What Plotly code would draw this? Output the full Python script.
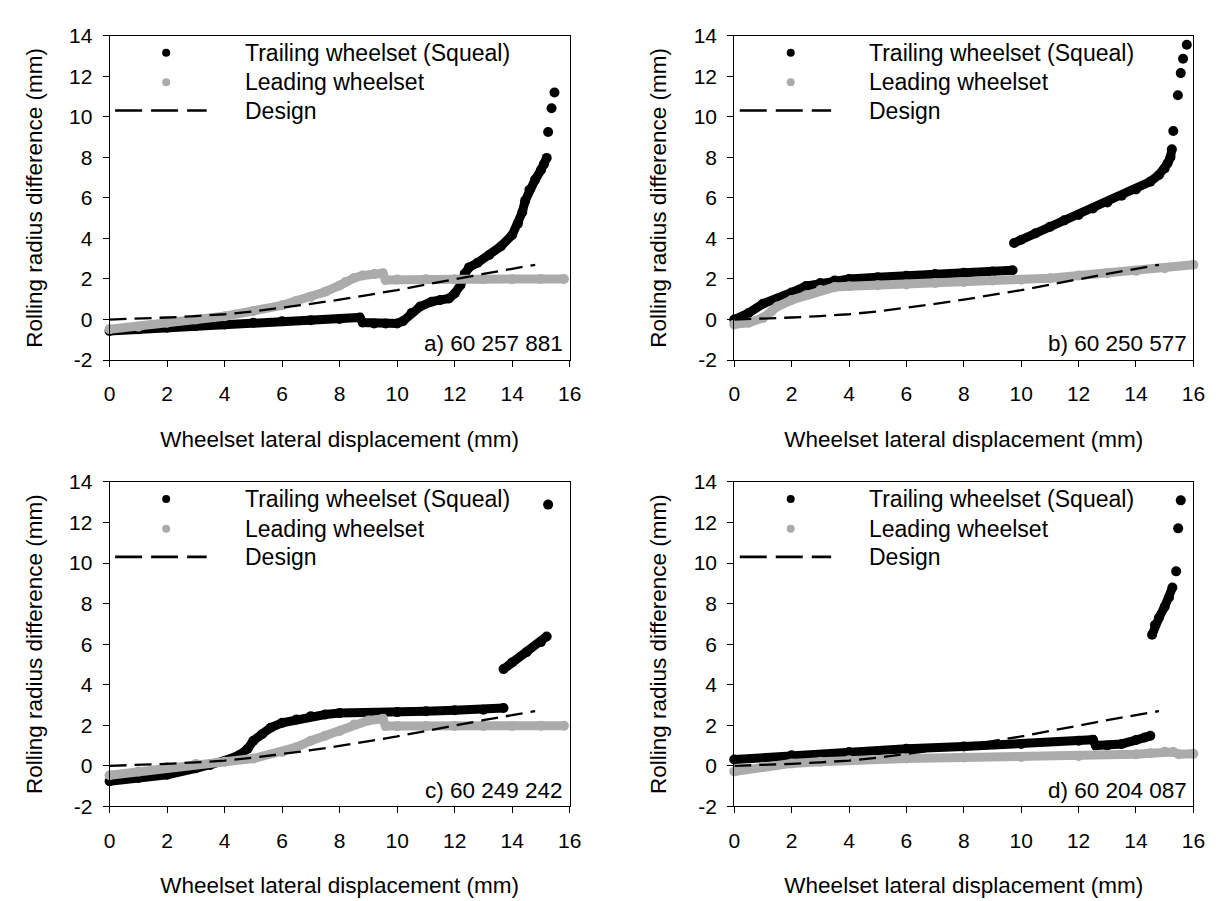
import plotly.graph_objects as go

# ---------------- data ----------------
design_x = [0, 1, 2, 3, 4, 5, 6, 7, 8, 9, 10, 11, 12, 13, 14, 14.8]
design_y = [0, 0.04, 0.1, 0.17, 0.26, 0.4, 0.57, 0.77, 0.98, 1.2, 1.45, 1.72, 2.0, 2.25, 2.5, 2.7]

# a) 60 257 881
trail_a_x = [0, 1, 2, 3, 4, 5, 6, 7, 8, 8.7, 8.8, 9.2, 9.6, 10.0, 10.2, 10.5, 10.8, 11.2, 11.5, 11.8,
             12.0, 12.2, 12.35, 12.5, 12.8, 13.2, 13.6, 14.0, 14.2, 14.35, 14.45, 14.6, 14.8, 15.0,
             15.1, 15.2, None, 15.25, None, 15.37, None, 15.47]
trail_a_y = [-0.56, -0.48, -0.4, -0.32, -0.24, -0.16, -0.08, -0.03, 0.03, 0.1, -0.15, -0.19, -0.19,
             -0.19, -0.08, 0.32, 0.64, 0.88, 0.96, 1.04, 1.28, 1.69, 2.25, 2.57, 2.8, 3.18, 3.6, 4.17,
             4.73, 5.29, 5.85, 6.4, 6.9, 7.37, 7.65, 7.97, None, 9.25, None, 10.42, None, 11.19]
lead_a_x = [0, 1, 2, 3, 4, 5, 6, 6.5, 7, 7.5, 8, 8.2, 8.5, 8.8, 9.2, 9.5, 9.6, 10, 11, 12, 13, 14, 15, 15.8]
lead_a_y = [-0.48, -0.35, -0.16, 0.0, 0.16, 0.42, 0.7, 0.93, 1.12, 1.37, 1.68, 1.85, 2.05, 2.17, 2.25,
            2.28, 1.95, 1.97, 1.98, 1.98, 1.99, 1.99, 2.0, 2.0]

# b) 60 250 577
trail_b_x = [0, 0.5, 1.0, 1.5, 2, 2.5, 3, 3.5, 4, 5, 6, 7, 8, 9, 9.7, None,
             9.75, 10, 10.5, 11, 11.5, 12, 12.5, 13, 13.5, 14, 14.5, 14.8, 15.0, 15.1, 15.2, 15.25, None,
             15.3, None, 15.46, None, 15.56, None, 15.64, None, 15.77]
trail_b_y = [0.0, 0.32, 0.78, 1.02, 1.33, 1.65, 1.8, 1.93, 2.0, 2.08, 2.16, 2.24, 2.31, 2.37, 2.43, None,
             3.77, 3.93, 4.25, 4.57, 4.89, 5.16, 5.48, 5.77, 6.1, 6.41, 6.8, 7.13, 7.45, 7.7, 8.0, 8.4, None,
             9.3, None, 11.06, None, 12.15, None, 12.86, None, 13.55]
lead_b_x = [0, 0.5, 1.0, 1.3, 1.5, 2, 2.5, 3, 3.5, 4, 5, 6, 7, 8, 9, 10, 11, 12, 13, 14, 15, 16]
lead_b_y = [-0.24, -0.16, 0.08, 0.4, 0.64, 0.96, 1.2, 1.45, 1.6, 1.64, 1.69, 1.73, 1.8, 1.85, 1.93, 1.96,
            2.04, 2.17, 2.28, 2.4, 2.53, 2.7]

# c) 60 249 242
trail_c_x = [0, 1, 2, 3, 3.5, 4, 4.5, 4.8, 5, 5.3, 5.6, 6, 6.5, 7, 7.5, 8, 9, 10, 11, 12, 13, 13.7, None,
             13.7, 14.0, 14.5, 15.0, 15.2, None, 15.25]
trail_c_y = [-0.76, -0.6, -0.44, -0.12, 0.04, 0.25, 0.52, 0.84, 1.24, 1.56, 1.88, 2.12, 2.29, 2.45, 2.53,
             2.6, 2.6, 2.65, 2.69, 2.74, 2.77, 2.85, None,
             4.77, 5.1, 5.6, 6.1, 6.38, None, 12.88]
lead_c_x = [0, 1, 2, 3, 4, 5, 6, 6.5, 7, 7.5, 8, 8.5, 9, 9.5, 9.6, 10, 11, 12, 13, 14, 15, 15.8]
lead_c_y = [-0.46, -0.28, -0.06, 0.09, 0.2, 0.36, 0.68, 0.92, 1.24, 1.48, 1.72, 2.04, 2.24, 2.32, 1.96,
            1.96, 1.96, 1.97, 1.97, 1.97, 1.98, 1.98]

# d) 60 204 087
trail_d_x = [0, 2, 4, 6, 8, 10, 12, 12.5, 12.6, 13, 13.5, 14, 14.3, 14.5, None,
             14.56, 14.66, 14.8, 15.0, 15.15, 15.27, None, 15.4, None, 15.47, None, 15.56]
trail_d_y = [0.31, 0.52, 0.68, 0.84, 0.95, 1.08, 1.24, 1.29, 1.0, 1.0, 1.08, 1.27, 1.4, 1.48, None,
             6.46, 6.94, 7.3, 7.85, 8.3, 8.79, None, 9.59, None, 11.71, None, 13.09]
lead_d_x = [0, 1, 2, 3, 4, 6, 8, 10, 12, 14, 14.5, 15, 15.3, 15.5, 16]
lead_d_y = [-0.28, -0.04, 0.12, 0.2, 0.28, 0.36, 0.41, 0.44, 0.49, 0.57, 0.62, 0.7, 0.68, 0.57, 0.6]

panel_labels = ["a) 60 257 881", "b) 60 250 577", "c) 60 249 242", "d) 60 204 087"]
series_names = ["Trailing wheelset (Squeal)", "Leading wheelset", "Design"]
x_ticks = [0, 2, 4, 6, 8, 10, 12, 14, 16]
y_ticks = [-2, 0, 2, 4, 6, 8, 10, 12, 14]
y_tick_text = ["-2", "0", "2", "4", "6", "8", "10", "12", "14"]
x_title = "Wheelset lateral displacement (mm)"
y_title = "Rolling radius difference (mm)"

panels = [
    (trail_a_x, trail_a_y, lead_a_x, lead_a_y),
    (trail_b_x, trail_b_y, lead_b_x, lead_b_y),
    (trail_c_x, trail_c_y, lead_c_x, lead_c_y),
    (trail_d_x, trail_d_y, lead_d_x, lead_d_y),
]

# ---------------- styling ----------------
FONT = "Liberation Sans, Arial, sans-serif"
BLACK = "#000000"
GRAY = "#ababab"
W, H = 1223, 901
x_domains = [[97 / W, 564 / W], [731 / W, 1197 / W], [97 / W, 564 / W], [731 / W, 1197 / W]]
y_domains = [[1 - 349 / H, 1 - 16 / H], [1 - 349 / H, 1 - 16 / H],
             [1 - 807 / H, 1 - 474 / H], [1 - 807 / H, 1 - 474 / H]]

fig = go.Figure()
layout = dict(
    width=W, height=H, margin=dict(l=0, r=0, t=0, b=0),
    paper_bgcolor="white", plot_bgcolor="white", showlegend=False,
    font=dict(family=FONT, size=21, color=BLACK),
)
shapes, annotations = [], []

for i, (tx, ty, lx, ly) in enumerate(panels):
    n = "" if i == 0 else str(i + 1)
    xa, ya = "x" + n, "y" + n
    fig.add_trace(go.Scatter(x=tx, y=ty, xaxis=xa, yaxis=ya, mode="lines+markers",
                             name=series_names[0], cliponaxis=False,
                             line=dict(color=BLACK, width=9), marker=dict(color=BLACK, size=10)))
    fig.add_trace(go.Scatter(x=lx, y=ly, xaxis=xa, yaxis=ya, mode="lines+markers",
                             name=series_names[1], cliponaxis=False,
                             line=dict(color=GRAY, width=9), marker=dict(color=GRAY, size=10)))
    fig.add_trace(go.Scatter(x=design_x, y=design_y, xaxis=xa, yaxis=ya, mode="lines",
                             name=series_names[2],
                             line=dict(color=BLACK, width=2.3, dash="17px,8px")))
    axis_common = dict(showline=True, mirror=True, linecolor=BLACK, linewidth=1,
                       ticks="outside", ticklen=6, tickwidth=1, tickcolor=BLACK,
                       showgrid=False, zeroline=False,
                       tickfont=dict(family=FONT, size=21, color=BLACK))
    layout["xaxis" + n] = dict(axis_common, domain=x_domains[i], range=[0, 16],
                               tickvals=x_ticks, anchor=ya, ticklabelstandoff=9,
                               title=dict(text=x_title, font=dict(family=FONT, size=22.5), standoff=26))
    layout["yaxis" + n] = dict(axis_common, domain=y_domains[i], range=[-2, 14],
                               tickvals=y_ticks, ticktext=y_tick_text, anchor=xa, ticklabelstandoff=6,
                               title=dict(text=y_title, font=dict(family=FONT, size=22.5), standoff=20))
    xd, yd = xa + " domain", ya + " domain"
    # legend drawn inside the panel
    shapes.append(dict(type="circle", xref=xd, yref=yd, xsizemode="pixel", ysizemode="pixel",
                       xanchor=0.123, yanchor=0.947, x0=-4, x1=4, y0=-4, y1=4,
                       fillcolor=BLACK, line=dict(width=0)))
    shapes.append(dict(type="circle", xref=xd, yref=yd, xsizemode="pixel", ysizemode="pixel",
                       xanchor=0.123, yanchor=0.856, x0=-4, x1=4, y0=-4, y1=4,
                       fillcolor=GRAY, line=dict(width=0)))
    shapes.append(dict(type="line", xref=xd, yref=yd, x0=0.012, x1=0.211, y0=0.769, y1=0.769,
                       line=dict(color=BLACK, width=2.6, dash="27px,9px")))
    for txt, yy in zip(series_names, [0.947, 0.856, 0.769]):
        annotations.append(dict(text=txt, xref=xd, yref=yd, x=0.29, y=yy, xanchor="left",
                                yanchor="middle", showarrow=False,
                                font=dict(family=FONT, size=23, color=BLACK)))
    annotations.append(dict(text=panel_labels[i], xref=xd, yref=yd, x=0.99, y=0.05,
                            xanchor="right", yanchor="middle", showarrow=False,
                            font=dict(family=FONT, size=22.5, color=BLACK)))

layout["shapes"] = shapes
layout["annotations"] = annotations
fig.update_layout(**layout)
fig.write_html("out.html")
